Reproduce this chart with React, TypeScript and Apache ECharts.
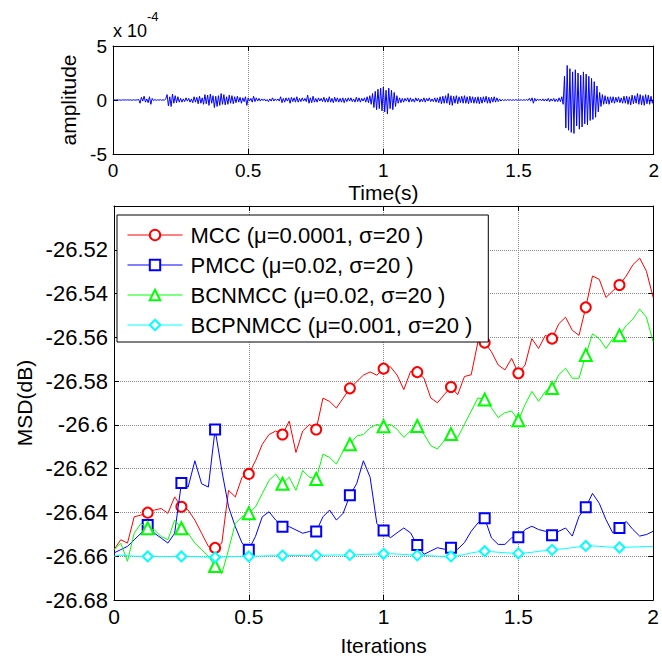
import { useEffect, useRef } from "react";
import * as echarts from "echarts";

// ---------- top panel: speech signal (units of 1e-4), t = 0 .. 2 step 0.005 ----------
const waveAmp: number[] = [
  0, 0.01, -0.01, 0.02, -0.01, 0.01, -0.02, 0.01, 0, 0.01,
  -0.01, 0.02, -0.01, 0.01, -0.02, 0.01, 0, -0.01, 0.02, 0.05,
  -0.3, 0.25, -0.1, 0.35, -0.2, 0.1, -0.25, 0.3, -0.4, 0.15,
  -0.05, 0.04, -0.03, 0.02, -0.02, 0.03, -0.02, 0.02, -0.03, 0.1,
  0.5, -0.55, 0.3, -0.6, 0.55, -0.3, 0.4, -0.25, 0.3, -0.2,
  0.15, -0.2, 0.1, -0.15, 0.2, -0.1, 0.15, -0.2, 0.1, -0.25,
  0.3, -0.2, 0.25, -0.35, 0.35, -0.3, 0.2, -0.4, 0.5, -0.35,
  0.45, -0.5, 0.55, -0.3, 0.4, -0.7, 0.35, -0.6, 0.4, -0.5,
  0.6, -0.4, 0.5, -0.45, 0.3, -0.4, 0.45, -0.3, 0.4, -0.35,
  0.3, -0.25, 0.35, -0.2, 0.25, -0.3, 0.2, -0.15, 0.3, -0.5,
  0.2, -0.1, 0.15, -0.2, 0.35, -0.15, 0.2, -0.1, 0.15, -0.1,
  0.1, -0.05, 0.1, -0.1, 0.05, -0.15, 0.1, -0.1, 0.2, -0.1,
  0.1, -0.05, 0.1, -0.1, 0.3, -0.25, 0.15, -0.2, 0.2, -0.1,
  0.2, -0.3, 0.25, -0.15, 0.2, -0.2, 0.3, -0.2, 0.15, -0.15,
  0.2, -0.1, 0.15, -0.15, 0.45, -0.3, 0.2, -0.25, 0.35, -0.2,
  0.15, -0.2, 0.2, -0.1, 0.15, -0.15, 0.25, -0.2, 0.15, -0.2,
  0.3, -0.2, 0.15, -0.25, 0.25, -0.15, 0.2, -0.2, 0.15, -0.2,
  0.2, -0.25, 0.15, -0.15, 0.2, -0.1, 0.2, -0.15, 0.1, -0.2,
  0.25, -0.15, 0.2, -0.2, 0.15, -0.1, 0.2, -0.2, 0.3, -0.25,
  0.4, -0.4, 0.6, -0.7, 0.8, -0.9, 1.0, -0.8, 1.1, -1.0,
  1.2, -1.1, 0.9, -1.3, 1.1, -0.8, 0.9, -0.9, 0.7, -0.6,
  0.4, -0.3, 0.2, -0.25, 0.15, -0.2, 0.15, -0.1, 0.2, -0.2,
  0.2, -0.15, 0.1, -0.2, 0.2, -0.1, 0.15, -0.2, 0.1, -0.15,
  0.2, -0.2, 0.15, -0.1, 0.2, -0.15, 0.1, -0.15, 0.2, -0.2,
  0.2, -0.25, 0.3, -0.35, 0.35, -0.3, 0.4, -0.3, 0.6, -0.45,
  0.4, -0.5, 0.35, -0.3, 0.4, -0.35, 0.3, -0.25, 0.35, -0.3,
  0.4, -0.3, 0.3, -0.35, 0.35, -0.25, 0.3, -0.3, 0.25, -0.3,
  0.3, -0.35, 0.25, -0.3, 0.3, -0.2, 0.35, -0.3, 0.25, -0.3,
  0.25, -0.2, 0.3, -0.2, 0.2, -0.15, 0.1, -0.1, 0.05, -0.05,
  0.03, -0.03, 0.04, -0.03, 0.03, -0.04, 0.03, -0.03, 0.04, -0.03,
  0.03, -0.03, 0.03, -0.04, 0.03, -0.03, 0.05, -0.05, 0.15, -0.1,
  0.2, -0.3, 0.15, -0.1, 0.1, -0.05, 0.08, -0.08, 0.1, -0.1,
  0.1, -0.1, 0.15, -0.15, 0.1, -0.1, 0.15, -0.15, 0.1, -0.15,
  0.2, -0.15, 0.3, -0.4, 2.2, -2.6, 3.2, -2.8, 2.9, -3.0,
  2.6, -3.1, 2.8, -2.4, 2.5, -2.7, 2.3, -2.5, 2.6, -2.2,
  2.4, -2.3, 2.2, -1.9, 2.0, -1.8, 1.7, -1.6, 1.3, -1.1,
  0.7, -0.6, 0.5, -0.4, 0.4, -0.35, 0.3, -0.4, 0.3, -0.25,
  0.3, -0.3, 0.25, -0.2, 0.3, -0.25, 0.2, -0.3, 0.35, -0.3,
  0.35, -0.4, 0.3, -0.45, 0.45, -0.35, 0.4, -0.3, 0.6, -0.4,
  0.5, -0.45, 0.4, -0.5, 0.5, -0.35, 0.45, -0.4, 0.35, -0.3,
  0.2,
];
const waveTime: number[] = waveAmp.map((_, i) => +(i * 0.005).toFixed(3));

// ---------- bottom panel: MSD curves (t = 0 .. 2, step 0.025) ----------
const mcc: number[] = [
  -26.657, -26.6525, -26.654, -26.642, -26.6412, -26.6401, -26.6389, -26.6382, -26.6404, -26.6329,
  -26.6374, -26.6389, -26.6435, -26.6495, -26.6555, -26.6562, -26.654, -26.6299, -26.6329, -26.6239,
  -26.6224, -26.6164, -26.6089, -26.6044, -26.6028, -26.6044, -26.5983, -26.6126, -26.6028, -26.5998,
  -26.6021, -26.5878, -26.5893, -26.5923, -26.5878, -26.5833, -26.5803, -26.5773, -26.5758, -26.5773,
  -26.5743,
  -26.5734, -26.5772, -26.5839, -26.5756, -26.5759, -26.5787, -26.5877, -26.5899, -26.5862, -26.5827,
  -26.5862, -26.5779, -26.5771, -26.5621, -26.5624, -26.5666, -26.5726, -26.5749, -26.5696, -26.5764,
  -26.5726, -26.5606, -26.5651, -26.5591, -26.5606, -26.5538, -26.5508, -26.5568, -26.5591, -26.5463,
  -26.532, -26.5335, -26.5418, -26.5388, -26.5361, -26.532, -26.5268, -26.5238, -26.5298, -26.5418,
];
const pmcc: number[] = [
  -26.6585, -26.657, -26.6555, -26.6525, -26.6495, -26.6457, -26.6495, -26.6517, -26.654, -26.6495,
  -26.6266, -26.6284, -26.6164, -26.6269, -26.6284, -26.6021, -26.6209, -26.6374, -26.6465, -26.654,
  -26.657, -26.6509, -26.642, -26.6397, -26.6435, -26.6465, -26.6465, -26.648, -26.6495, -26.6487,
  -26.6487, -26.642, -26.6389, -26.6435, -26.6404, -26.6322, -26.6269, -26.6164, -26.6239, -26.645,
  -26.6483,
  -26.6516, -26.6493, -26.6471, -26.6493, -26.6549, -26.6591, -26.6576, -26.6561, -26.6568, -26.6561,
  -26.6568, -26.6538, -26.6486, -26.6448, -26.6426, -26.6516, -26.6546, -26.6546, -26.6516, -26.6513,
  -26.6478, -26.6463, -26.6478, -26.6486, -26.6504, -26.6486, -26.6471, -26.6508, -26.6418, -26.6376,
  -26.6313, -26.6358, -26.6433, -26.6493, -26.6471, -26.6441, -26.6478, -26.6508, -26.6501, -26.6486,
];
const bcnmcc: number[] = [
  -26.657, -26.654, -26.6623, -26.6495, -26.645, -26.6472, -26.648, -26.651, -26.6525, -26.6435,
  -26.6472, -26.6495, -26.654, -26.657, -26.66, -26.6645, -26.668, -26.657, -26.645, -26.642,
  -26.6404, -26.6374, -26.6314, -26.6254, -26.6224, -26.6269, -26.6239, -26.6299, -26.6209, -26.6239,
  -26.6247, -26.6134, -26.6149, -26.6179, -26.6119, -26.6089, -26.6051, -26.6044, -26.6013, -26.5998,
  -26.6006,
  -26.5997, -26.602, -26.6057, -26.6027, -26.6005, -26.6042, -26.6095, -26.611, -26.6072, -26.6042,
  -26.6057, -26.5997, -26.5937, -26.5877, -26.5884, -26.5922, -26.5967, -26.5944, -26.5937, -26.5979,
  -26.5907, -26.5847, -26.5892, -26.5847, -26.5832, -26.5771, -26.5741, -26.5787, -26.5787, -26.5681,
  -26.5584, -26.5606, -26.5651, -26.5606, -26.5591, -26.5546, -26.5516, -26.5471, -26.5508, -26.5621,
];
const bcpnmcc: number[] = [
  -26.66, -26.6595, -26.6598, -26.66, -26.66, -26.6601, -26.66, -26.6602, -26.6602, -26.66,
  -26.6601, -26.6601, -26.6602, -26.6603, -26.6604, -26.6605, -26.6604, -26.6602, -26.6601, -26.66,
  -26.6601, -26.66, -26.6599, -26.6598, -26.6598, -26.6597, -26.6597, -26.6596, -26.6597, -26.6597,
  -26.6596, -26.6595, -26.6595, -26.6594, -26.6595, -26.6594, -26.6593, -26.6592, -26.6591, -26.659,
  -26.6589,
  -26.6589, -26.659, -26.6592, -26.6594, -26.6596, -26.6597, -26.6598, -26.66, -26.6601, -26.6601,
  -26.6598, -26.6592, -26.6585, -26.658, -26.6577, -26.6579, -26.6582, -26.6584, -26.6586, -26.6587,
  -26.6585, -26.6582, -26.6578, -26.6574, -26.6571, -26.6568, -26.6565, -26.6561, -26.6557, -26.6553,
  -26.6553, -26.6555, -26.6557, -26.6559, -26.656, -26.6559, -26.6558, -26.6557, -26.6556, -26.6556,
];
const iterTime: number[] = mcc.map((_, i) => +(i * 0.025).toFixed(3));

const seriesNames: string[] = [
  "MCC (\u03bc=0.0001, \u03c3=20 )",
  "PMCC (\u03bc=0.02, \u03c3=20 )",
  "BCNMCC (\u03bc=0.02, \u03c3=20 )",
  "BCPNMCC (\u03bc=0.001, \u03c3=20 )",
];
const seriesColors: string[] = ["#ff0000", "#0000ff", "#00ff00", "#00ffff"];
const seriesSymbols: string[] = ["emptyCircle", "emptyRect", "emptyTriangle", "emptyDiamond"];
const seriesSymbolSizes: number[] = [10, 10, 12, 10];
const seriesValues: number[][] = [mcc, pmcc, bcnmcc, bcpnmcc];

const xTicks = { min: 0, max: 2, interval: 0.5 };
const ampTicks = { min: -5, max: 5, interval: 5 };
const msdTicks = { min: -26.68, max: -26.5, interval: 0.02 };

const FONT = "'Liberation Sans', Arial, Helvetica, sans-serif";
const GRID_COLOR = "#8a8a8a";

export default function App() {
  const ref = useRef<HTMLDivElement>(null);

  useEffect(() => {
    if (!ref.current) return;
    const chart = echarts.init(ref.current, undefined, { renderer: "svg" });

    const boxLine = { show: true, onZero: false, lineStyle: { color: "#000", width: 1 } };
    const inTick = { show: true, inside: true, length: 5, lineStyle: { color: "#000", width: 1 } };
    const split = { show: true, lineStyle: { color: GRID_COLOR, type: "dotted", width: 1 } };

    const markerEvery = 5;
    const bottomSeries = seriesValues.map((vals, k) => ({
      name: seriesNames[k],
      type: "line",
      xAxisIndex: 2,
      yAxisIndex: 2,
      symbol: seriesSymbols[k],
      symbolSize: seriesSymbolSizes[k],
      showAllSymbol: true,
      color: seriesColors[k],
      lineStyle: { color: seriesColors[k], width: 1 },
      itemStyle: { color: seriesColors[k], borderColor: seriesColors[k], borderWidth: 3 },
      z: 3 + k,
      data: vals.map((v, i) =>
        i > 0 && i < vals.length - 1 && i % markerEvery === 0
          ? { value: [iterTime[i], v] }
          : { value: [iterTime[i], v], symbol: "none" }
      ),
    }));

    const option: any = {
      animation: false,
      backgroundColor: "#ffffff",
      textStyle: { fontFamily: FONT },
      grid: [
        { left: 113, top: 46, width: 546, height: 108, containLabel: false },
        { left: 114, top: 206, width: 545, height: 398, containLabel: false },
      ],
      xAxis: [
        {
          gridIndex: 0, type: "value", position: "bottom", ...xTicks,
          axisLine: boxLine, axisTick: inTick, splitLine: split,
          axisLabel: { color: "#000", fontSize: 19, margin: 7, fontFamily: FONT },
          name: "Time(s)", nameLocation: "middle", nameGap: 28,
          nameTextStyle: { color: "#000", fontSize: 21, fontFamily: FONT },
        },
        {
          gridIndex: 0, type: "value", position: "top", ...xTicks,
          axisLine: boxLine, axisTick: inTick, splitLine: { show: false },
          axisLabel: { show: false },
        },
        {
          gridIndex: 1, type: "value", position: "bottom", ...xTicks,
          axisLine: boxLine, axisTick: inTick, splitLine: split,
          axisLabel: { color: "#000", fontSize: 21, margin: 6, fontFamily: FONT },
          name: "Iterations", nameLocation: "middle", nameGap: 35,
          nameTextStyle: { color: "#000", fontSize: 21, fontFamily: FONT },
        },
        {
          gridIndex: 1, type: "value", position: "top", ...xTicks,
          axisLine: boxLine, axisTick: inTick, splitLine: { show: false },
          axisLabel: { show: false },
        },
      ],
      yAxis: [
        {
          gridIndex: 0, type: "value", position: "left", ...ampTicks,
          axisLine: boxLine, axisTick: inTick, splitLine: { show: false },
          axisLabel: { color: "#000", fontSize: 19, margin: 6, fontFamily: FONT },
          name: "amplitude", nameLocation: "middle", nameGap: 31,
          nameTextStyle: { color: "#000", fontSize: 21, fontFamily: FONT },
        },
        {
          gridIndex: 0, type: "value", position: "right", ...ampTicks,
          axisLine: boxLine, axisTick: inTick, splitLine: { show: false },
          axisLabel: { show: false },
        },
        {
          gridIndex: 1, type: "value", position: "left", ...msdTicks,
          axisLine: boxLine, axisTick: inTick, splitLine: split,
          axisLabel: {
            color: "#000", fontSize: 22, margin: 6, fontFamily: FONT,
            showMaxLabel: false,
            formatter: (v: number) => (v > -26.505 ? "" : String(parseFloat(v.toFixed(2)))),
          },
          name: "MSD(dB)", nameLocation: "middle", nameGap: 79,
          nameTextStyle: { color: "#000", fontSize: 21, fontFamily: FONT },
        },
        {
          gridIndex: 1, type: "value", position: "right", ...msdTicks,
          axisLine: boxLine, axisTick: inTick, splitLine: { show: false },
          axisLabel: { show: false },
        },
      ],
      legend: {
        data: seriesNames,
        orient: "vertical",
        left: 117,
        top: 215,
        padding: [9, 16, 6, 10],
        itemGap: 8,
        itemWidth: 55,
        itemHeight: 13,
        backgroundColor: "#ffffff",
        borderColor: "#000000",
        borderWidth: 1,
        borderRadius: 0,
        z: 20,
        itemStyle: { borderWidth: 1 },
        lineStyle: { width: 1 },
        textStyle: { color: "#000", fontSize: 22, fontFamily: FONT, padding: [0, 0, 0, 3] },
      },
      graphic: [
        {
          type: "text", left: 113, top: 22, z: 10,
          style: { text: "x 10", fontSize: 18, fontFamily: FONT, fill: "#000" },
        },
        {
          type: "text", left: 147, top: 10, z: 10,
          style: { text: "-4", fontSize: 13, fontFamily: FONT, fill: "#000" },
        },
      ],
      series: [
        {
          name: "signal",
          type: "line",
          xAxisIndex: 0,
          yAxisIndex: 0,
          showSymbol: false,
          symbol: "none",
          lineStyle: { color: "#0000ff", width: 1 },
          data: waveAmp.map((v, i) => [waveTime[i], v]),
        },
        ...bottomSeries,
      ],
    };

    chart.setOption(option);
    return () => chart.dispose();
  }, []);

  return (
    <div
      ref={ref}
      style={{ position: "fixed", left: 0, top: 0, width: 662, height: 661, background: "#fff" }}
    />
  );
}
